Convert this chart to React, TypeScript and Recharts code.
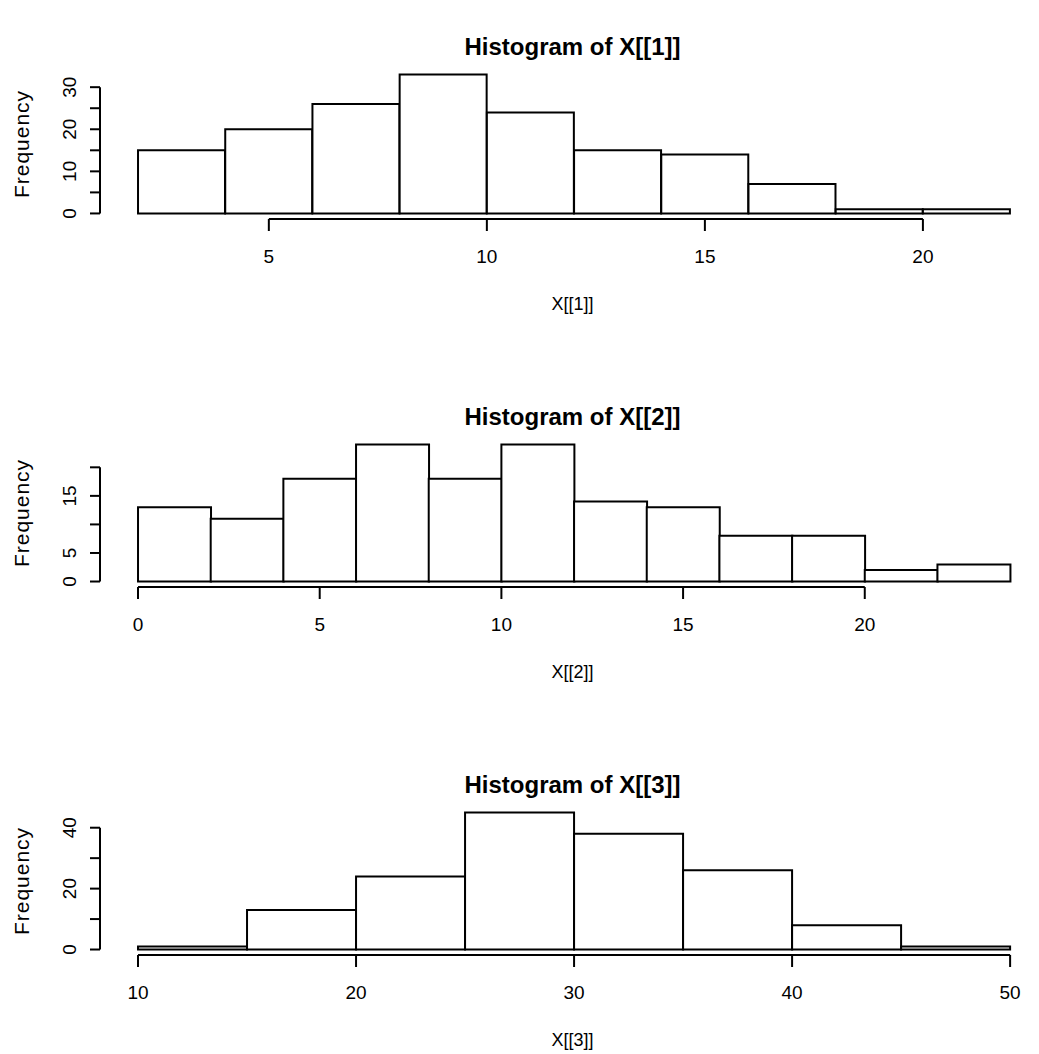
import React from "react";
import { ComposedChart, Bar, XAxis, YAxis, ReferenceLine, Label } from "recharts";

// histogram 1
const breaks1 = [2, 4, 6, 8, 10, 12, 14, 16, 18, 20, 22];
const counts1 = [15, 20, 26, 33, 24, 15, 14, 7, 1, 1];
const xTicks1 = [5, 10, 15, 20];
const yTicks1 = [0, 5, 10, 15, 20, 25, 30];
const yLabels1 = [0, 10, 20, 30];

// histogram 2
const breaks2 = [0, 2, 4, 6, 8, 10, 12, 14, 16, 18, 20, 22, 24];
const counts2 = [13, 11, 18, 24, 18, 24, 14, 13, 8, 8, 2, 3];
const xTicks2 = [0, 5, 10, 15, 20];
const yTicks2 = [0, 5, 10, 15, 20];
const yLabels2 = [0, 5, 15];

// histogram 3
const breaks3 = [10, 15, 20, 25, 30, 35, 40, 45, 50];
const counts3 = [1, 13, 24, 45, 38, 26, 8, 1];
const xTicks3 = [10, 20, 30, 40, 50];
const yTicks3 = [0, 10, 20, 30, 40];
const yLabels3 = [0, 20, 40];

const FONT = '"Liberation Sans", Arial, sans-serif';
const INK = "#000";
const LW = 2;
const TICK_FS = 19;

const XTick = (props: any) => {
  const { x, y, payload } = props;
  return (
    <text x={x} y={y + 32} textAnchor="middle" fontSize={TICK_FS} fontFamily={FONT} fill={INK}>
      {payload.value}
    </text>
  );
};

const YTick = (props: any) => {
  const { x, y, payload, labels } = props;
  if (!labels.includes(payload.value)) return <g />;
  const bx = x - 14;
  return (
    <text x={bx} y={y} transform={`rotate(-90 ${bx} ${y})`} textAnchor="middle" fontSize={TICK_FS} fontFamily={FONT} fill={INK}>
      {payload.value}
    </text>
  );
};

const XTitle = (props: any) => {
  const { viewBox, text } = props;
  const cx = viewBox.x + viewBox.width / 2;
  return (
    <text x={cx} y={viewBox.y + 91} textAnchor="middle" fontSize={18} fontFamily={FONT} fill={INK}>
      {text}
    </text>
  );
};

const YTitle = (props: any) => {
  const { viewBox } = props;
  const cy = viewBox.y + viewBox.height / 2;
  return (
    <text x={29} y={cy} transform={`rotate(-90 29 ${cy})`} textAnchor="middle" fontSize={21} letterSpacing={1} fontFamily={FONT} fill={INK}>
      Frequency
    </text>
  );
};

type PanelProps = {
  title: string;
  xLabel: string;
  breaks: number[];
  counts: number[];
  xTicks: number[];
  yTicks: number[];
  yLabels: number[];
  top: number;
  plotH: number;
};

const Panel = ({ title, xLabel, breaks, counts, xTicks, yTicks, yLabels, top, plotH }: PanelProps) => {
  const data = counts.map((c, i) => ({ mid: (breaks[i] + breaks[i + 1]) / 2, count: c }));
  const lo = breaks[0];
  const hi = breaks[breaks.length - 1];
  const span = hi - lo;
  const xDomain = [lo - 0.0436 * span, hi + 0.04 * span];
  const yMax = Math.max(...counts);
  const yDomain = [-0.04 * yMax, 1.04 * yMax];
  const M = 40;

  return (
    <>
      <div
        style={{
          position: "absolute",
          left: 100,
          width: 945,
          top: top - 22 - 12,
          textAlign: "center",
          fontFamily: FONT,
          fontWeight: "bold",
          fontSize: 24,
          lineHeight: "24px",
        }}
      >
        {title}
      </div>
      <div style={{ position: "absolute", left: 0, top: top - M }}>
        <ComposedChart
          width={1046}
          height={M + plotH + 100}
          data={data}
          margin={{ top: M, right: 1, left: 0, bottom: 0 }}
          barCategoryGap={0}
          barGap={0}
        >
          <XAxis
            dataKey="mid"
            type="number"
            domain={xDomain}
            ticks={xTicks}
            interval={0}
            allowDataOverflow
            axisLine={false}
            tickLine={{ stroke: INK, strokeWidth: LW }}
            tickSize={12}
            tickMargin={0}
            height={100}
            tick={<XTick />}
          >
            <Label content={<XTitle text={xLabel} />} />
          </XAxis>
          <YAxis
            type="number"
            domain={yDomain}
            ticks={yTicks}
            interval={0}
            allowDataOverflow
            axisLine={false}
            tickLine={{ stroke: INK, strokeWidth: LW }}
            tickSize={10}
            tickMargin={0}
            width={100}
            tick={<YTick labels={yLabels} />}
          >
            <Label content={<YTitle />} />
          </YAxis>
          <Bar dataKey="count" fill="#fff" stroke={INK} strokeWidth={LW} isAnimationActive={false} />
          <ReferenceLine
            segment={[
              { x: xTicks[0], y: yDomain[0] },
              { x: xTicks[xTicks.length - 1], y: yDomain[0] },
            ]}
            stroke={INK}
            strokeWidth={LW}
            ifOverflow="visible"
          />
          <ReferenceLine
            segment={[
              { x: xDomain[0], y: 0 },
              { x: xDomain[0], y: yTicks[yTicks.length - 1] },
            ]}
            stroke={INK}
            strokeWidth={LW}
            ifOverflow="visible"
          />
        </ComposedChart>
      </div>
    </>
  );
};

export default function App() {
  return (
    <div
      style={{
        position: "absolute",
        left: 0,
        top: 0,
        width: 1039,
        height: 1054,
        overflow: "hidden",
        background: "#fff",
      }}
    >
      <Panel title="Histogram of X[[1]]" xLabel="X[[1]]" breaks={breaks1} counts={counts1} xTicks={xTicks1} yTicks={yTicks1} yLabels={yLabels1} top={69} plotH={150} />
      <Panel title="Histogram of X[[2]]" xLabel="X[[2]]" breaks={breaks2} counts={counts2} xTicks={xTicks2} yTicks={yTicks2} yLabels={yLabels2} top={439} plotH={148} />
      <Panel title="Histogram of X[[3]]" xLabel="X[[3]]" breaks={breaks3} counts={counts3} xTicks={xTicks3} yTicks={yTicks3} yLabels={yLabels3} top={807} plotH={148} />
    </div>
  );
}
